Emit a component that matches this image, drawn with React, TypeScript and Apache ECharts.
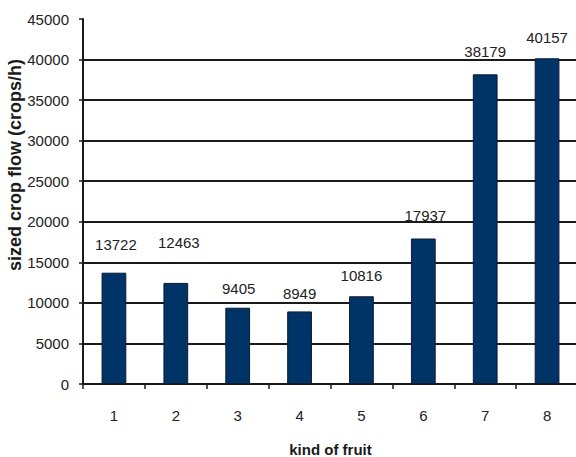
import React, { useEffect, useRef } from "react";
import * as echarts from "echarts";

// Sized crop flow per kind of fruit
const fruitKinds = ["1", "2", "3", "4", "5", "6", "7", "8"];
const cropFlow = [13722, 12463, 9405, 8949, 10816, 17937, 38179, 40157];
const yTicks = { min: 0, max: 45000, interval: 5000 };

const SANS = "'Liberation Sans', Arial, sans-serif";
const INK = "#1a1a1a";

// small hand nudges for the value labels above the bars
const labelNudges: [number, number][] = [
  [2, -8],
  [3, -20],
  [1, 1],
  [0, 3],
  [0, 0],
  [2, -3],
  [0, -2],
  [0, 0],
];

export default function App() {
  const ref = useRef<HTMLDivElement>(null);

  useEffect(() => {
    if (!ref.current) return;
    const chart = echarts.init(ref.current, undefined, { renderer: "svg" });

    const gridColors = Array.from({ length: 10 }, (_, i) => (i === 9 ? "transparent" : INK));

    chart.setOption({
      animation: false,
      backgroundColor: "#ffffff",
      grid: {
        left: 83,
        top: 19,
        width: 495,
        height: 365,
        containLabel: false,
        outerBoundsMode: "none",
      },
      xAxis: {
        type: "category",
        data: fruitKinds,
        boundaryGap: true,
        name: "kind of fruit",
        nameLocation: "middle",
        nameGap: 58,
        nameTextStyle: { fontFamily: SANS, fontWeight: "bold", fontSize: 15, color: INK },
        axisLine: { lineStyle: { color: INK, width: 2 } },
        axisTick: { show: true, length: 5, alignWithLabel: false, lineStyle: { color: INK, width: 1.5 } },
        axisLabel: { fontFamily: SANS, fontSize: 15, color: "#222", margin: 24 },
        splitLine: { show: false },
      },
      yAxis: {
        type: "value",
        min: yTicks.min,
        max: yTicks.max,
        interval: yTicks.interval,
        axisLine: { show: true, lineStyle: { color: INK, width: 2 } },
        axisTick: { show: true, length: 4, lineStyle: { color: INK, width: 1.5 } },
        axisLabel: {
          fontFamily: SANS,
          fontSize: 15,
          color: "#222",
          margin: 14,
          formatter: (v: number) => String(v),
        },
        splitLine: { show: true, lineStyle: { color: gridColors, width: 2 } },
      },
      graphic: [
        {
          type: "text",
          x: 14.5,
          y: 165,
          rotation: Math.PI / 2,
          style: {
            text: "sized crop flow (crops/h)",
            fontFamily: SANS,
            fontWeight: "bold",
            fontSize: 18,
            fill: INK,
            align: "center",
            verticalAlign: "middle",
          },
        },
      ],
      series: [
        {
          type: "bar",
          barWidth: "40%",
          data: cropFlow.map((v, i) => ({
            value: v,
            label: { offset: labelNudges[i] },
          })),
          itemStyle: { color: "#003366", borderColor: "#0d1b33", borderWidth: 1 },
          label: {
            show: true,
            position: "top",
            distance: 13,
            fontFamily: SANS,
            fontSize: 15,
            color: "#222",
            formatter: (p: any) => String(p.value),
          },
        },
      ],
    });

    return () => chart.dispose();
  }, []);

  return (
    <div
      ref={ref}
      style={{ position: "fixed", left: 0, top: 0, width: 576, height: 457 }}
    />
  );
}
